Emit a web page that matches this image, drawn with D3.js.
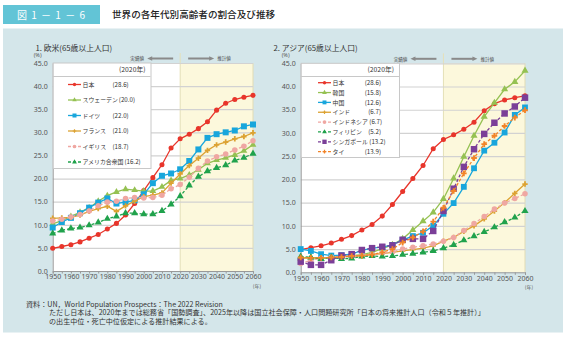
<!DOCTYPE html>
<html>
<head>
<meta charset="utf-8">
<script src="https://cdn.jsdelivr.net/npm/d3@7"></script>
<style>
body { margin: 0; background: #fff; }
svg { display: block; font-family: "Noto Sans CJK JP", "Noto Sans", sans-serif; }
</style>
</head>
<body>
<div id="chart"></div>
<script>
const WIDTH = 567;
const HEIGHT = 337;

// Data: share of population aged 65+ (%)
const years = [1950, 1955, 1960, 1965, 1970, 1975, 1980, 1985, 1990, 1995, 2000, 2005,
  2010, 2015, 2020, 2025, 2030, 2035, 2040, 2045, 2050, 2055, 2060];
const xTickLabels = [1950, 1960, 1970, 1980, 1990, 2000, 2010, 2020, 2030, 2040, 2050, 2060];
const yTickValues = [0, 5, 10, 15, 20, 25, 30, 35, 40, 45];

const japan = [4.9, 5.3, 5.7, 6.3, 7.1, 7.9, 9.1, 10.3, 12.1, 14.6, 17.4, 20.2,
  23.0, 26.6, 28.6, 29.6, 30.8, 32.3, 34.8, 36.3, 37.1, 37.6, 38.0];
const sweden = [10.2, 10.9, 11.8, 12.7, 13.7, 15.1, 16.3, 17.1, 17.7, 17.5, 17.3, 17.3,
  18.2, 19.6, 20.0, 20.8, 21.9, 23.3, 24.0, 24.5, 25.1, 26.0, 27.3];
const germany = [9.4, 10.6, 11.5, 12.5, 13.7, 14.8, 15.7, 14.6, 14.9, 15.3, 16.6, 19.0,
  20.6, 21.1, 22.0, 23.8, 26.3, 28.8, 29.6, 30.0, 30.4, 31.3, 31.7];
const france = [11.4, 11.5, 11.6, 12.1, 12.9, 13.5, 14.0, 12.9, 14.1, 15.1, 16.1, 16.4,
  16.9, 19.0, 21.0, 22.8, 24.4, 26.1, 27.3, 27.9, 28.6, 29.1, 29.9];
const uk = [10.8, 11.2, 11.7, 12.2, 13.0, 14.1, 14.9, 15.1, 15.7, 15.9, 15.8, 15.9,
  16.4, 17.8, 18.7, 20.3, 22.2, 23.8, 24.7, 25.3, 26.2, 27.0, 28.2];
const usa = [8.1, 8.8, 9.2, 9.4, 9.9, 10.5, 11.3, 11.8, 12.5, 12.5, 12.3, 12.3,
  13.0, 14.4, 16.2, 18.5, 20.4, 21.6, 22.3, 22.9, 23.9, 24.5, 25.4];

const korea = [3.0, 3.2, 2.9, 3.3, 3.4, 3.6, 3.8, 4.3, 5.1, 5.9, 7.2, 9.1,
  11.0, 12.9, 15.8, 20.2, 24.9, 29.4, 33.5, 36.5, 39.4, 41.0, 43.4];
const china = [5.0, 4.6, 3.9, 3.6, 3.7, 3.9, 4.7, 5.2, 5.4, 5.9, 7.0, 7.8,
  8.5, 10.0, 12.6, 14.9, 18.4, 22.4, 26.2, 27.9, 30.1, 33.9, 35.5];
const india = [3.1, 3.1, 3.1, 3.2, 3.3, 3.5, 3.6, 3.8, 4.0, 4.3, 4.6, 4.9,
  5.2, 5.7, 6.7, 7.5, 8.8, 10.0, 11.5, 13.2, 15.0, 17.0, 19.0];
const indonesia = [1.9, 2.6, 3.0, 3.3, 3.4, 3.5, 3.6, 3.8, 4.1, 4.4, 5.0, 5.4,
  5.7, 6.1, 6.7, 7.5, 9.0, 10.5, 12.0, 13.6, 14.9, 15.9, 16.9];
const philippines = [3.4, 3.2, 2.9, 3.2, 2.9, 3.0, 3.4, 3.5, 3.4, 3.5, 3.8, 4.0,
  4.3, 4.6, 5.2, 5.9, 6.9, 7.8, 8.7, 9.7, 10.8, 11.8, 13.2];
const singapore = [2.3, 1.6, 1.6, 2.6, 3.6, 3.9, 4.8, 5.2, 5.5, 5.8, 7.0, 7.2,
  7.2, 8.9, 13.2, 18.0, 22.7, 26.5, 29.8, 32.2, 34.2, 35.7, 37.6];
const thailand = [3.2, 3.1, 3.1, 3.2, 3.3, 3.5, 3.6, 3.8, 4.3, 5.0, 6.4, 7.5,
  8.8, 10.9, 13.9, 17.5, 21.3, 24.6, 27.6, 29.4, 31.5, 33.3, 34.9];

const svg = d3.select('#chart').append('svg')
  .attr('width', WIDTH)
  .attr('height', HEIGHT);

// Header
svg.append('rect').attr('x', 0).attr('y', 0).attr('width', WIDTH).attr('height', HEIGHT).attr('fill', '#fff');
svg.append('rect').attr('x', 3).attr('y', 5).attr('width', 97).attr('height', 19).attr('fill', '#62c4d6');
svg.append('text').attr('x', 17).attr('y', 18.5).attr('fill', '#fff')
  .attr('font-size', 10).attr('textLength', 68).text('図1－1－6');
svg.append('text').attr('x', 112).attr('y', 18).attr('fill', '#222')
  .attr('font-size', 9.6).attr('font-weight', 500).text('世界の各年代別高齢者の割合及び推移');
svg.append('rect').attr('x', 3).attr('y', 28.5).attr('width', 560).attr('height', 304).attr('fill', '#d4e6ea');

// Footer
const footer = svg.append('g').attr('font-size', 7.1).attr('fill', '#333');
footer.append('text').attr('x', 26).attr('y', 306.5).text('資料：UN，World Population Prospects：The 2022 Revision');
footer.append('text').attr('x', 49).attr('y', 315)
  .text('ただし日本は、2020年までは総務省「国勢調査」、2025年以降は国立社会保障・人口問題研究所「日本の将来推計人口（令和５年推計）」');
footer.append('text').attr('x', 49).attr('y', 323.5).text('の出生中位・死亡中位仮定による推計結果による。');

function drawPanel(cfg) {
  const x = d3.scaleLinear().domain([1950, 2060]).range([cfg.left, cfg.right]);
  const y = d3.scaleLinear().domain([0, 45]).range([cfg.bottom, cfg.top]);
  const g = svg.append('g');
  const plotW = x(2060) - x(1950);
  const plotH = y(0) - y(45);

  // backgrounds
  g.append('rect').attr('x', x(1950)).attr('y', y(45)).attr('width', x(2020) - x(1950))
    .attr('height', plotH).attr('fill', '#fff');
  g.append('rect').attr('x', x(2020)).attr('y', y(45)).attr('width', x(2060) - x(2020))
    .attr('height', plotH).attr('fill', '#fcf8dc');
  g.append('line').attr('x1', x(2060)).attr('x2', x(2060)).attr('y1', y(45)).attr('y2', y(0))
    .attr('stroke', '#e2dcb4').attr('stroke-width', 1);
  g.append('line').attr('x1', x(2020)).attr('x2', x(2020)).attr('y1', y(45) - 10).attr('y2', y(0))
    .attr('stroke', '#e6e0b8').attr('stroke-width', 1);

  // grid
  const grid = g.append('g')
    .attr('transform', 'translate(' + x(1950) + ',0)')
    .call(d3.axisLeft(y).tickValues(yTickValues.slice(1)).tickSize(-plotW).tickFormat(''));
  grid.select('.domain').remove();
  grid.selectAll('line').attr('stroke', '#d2d2d2').attr('stroke-width', 1.2);

  // axes
  const yAxis = g.append('g')
    .attr('transform', 'translate(' + x(1950) + ',0)')
    .call(d3.axisLeft(y).tickValues(yTickValues).tickSize(0).tickPadding(5).tickFormat(d3.format('.1f')));
  yAxis.select('.domain').attr('stroke', '#999');
  yAxis.selectAll('text').attr('font-family', '"Noto Sans", sans-serif').attr('font-size', 7).attr('fill', '#555');

  const xAxis = g.append('g')
    .attr('transform', 'translate(0,' + y(0) + ')')
    .call(d3.axisBottom(x).tickValues(years).tickSize(2.5).tickPadding(1)
      .tickFormat(d => xTickLabels.includes(d) ? d : ''));
  xAxis.select('.domain').attr('stroke', '#999');
  xAxis.selectAll('line').attr('stroke', '#999');
  xAxis.selectAll('text').attr('font-family', '"Noto Sans", sans-serif').attr('font-size', 7).attr('fill', '#555');

  g.append('text').attr('x', x(2060) + 4).attr('y', y(0) + 16.5).attr('text-anchor', 'middle')
    .attr('font-size', 5).attr('fill', '#555').text('(年)');
  g.append('text').attr('x', x(1950) - 19).attr('y', y(45) - 6).attr('font-size', 5.5)
    .attr('font-family', '"Noto Sans", sans-serif').attr('fill', '#555').text('(%)');
  g.append('text').attr('x', cfg.titleX).attr('y', 50.5).attr('font-size', 7.8).attr('fill', '#333')
    .text(cfg.title);

  // actual / projected arrows
  const arrowY = y(45) - 4.5;
  const arr = g.append('g').attr('stroke', '#8a8a8a').attr('fill', '#8a8a8a');
  const x20 = x(2020);
  arr.append('line').attr('x1', x20 - 7).attr('x2', x20 - 30).attr('y1', arrowY).attr('y2', arrowY).attr('stroke-width', 2);
  arr.append('path').attr('d', d3.line()([[x20 - 33, arrowY], [x20 - 28, arrowY - 2.2], [x20 - 28, arrowY + 2.2]])).attr('stroke', 'none');
  arr.append('line').attr('x1', x20 + 8).attr('x2', x20 + 31).attr('y1', arrowY).attr('y2', arrowY).attr('stroke-width', 2);
  arr.append('path').attr('d', d3.line()([[x20 + 34, arrowY], [x20 + 29, arrowY - 2.2], [x20 + 29, arrowY + 2.2]])).attr('stroke', 'none');
  g.append('text').attr('x', x20 - 36).attr('y', arrowY + 1.8).attr('text-anchor', 'end')
    .attr('font-size', 4.6).attr('fill', '#444').text('実績値');
  g.append('text').attr('x', x20 + 37).attr('y', arrowY + 1.8)
    .attr('font-size', 4.6).attr('fill', '#444').text('推計値');

  // series
  const line = d3.line().x((d, i) => x(years[i])).y(d => y(d));
  cfg.series.forEach(s => {
    const sg = g.append('g');
    sg.append('path').attr('d', line(s.values)).attr('fill', 'none')
      .attr('stroke', s.color).attr('stroke-width', 1.3)
      .attr('stroke-dasharray', s.dashed ? '3,2' : null);
    sg.selectAll('path.m').data(s.values).join('path').attr('class', 'm')
      .attr('transform', (d, i) => 'translate(' + x(years[i]) + ',' + y(d) + ')')
      .attr('d', d3.symbol().type(s.symbol).size(s.size))
      .attr('fill', s.color);
  });

  // legend
  const lg = g.append('g');
  const lx0 = x(1950);
  lg.append('rect').attr('x', lx0 + 0.5).attr('y', y(45)).attr('width', cfg.legendRight - lx0)
    .attr('height', cfg.legendBottom - y(45)).attr('fill', '#fff').attr('stroke', '#c8c8c8');
  lg.append('line').attr('x1', lx0).attr('x2', cfg.legendRight).attr('y1', cfg.legendHeadLine).attr('y2', cfg.legendHeadLine)
    .attr('stroke', '#c8c8c8');
  lg.append('text').attr('x', cfg.legendRight - 5).attr('y', y(45) + 8.5).attr('text-anchor', 'end')
    .attr('font-size', 6.8).attr('fill', '#333').text('(2020年)');
  const idx2020 = years.indexOf(2020);
  cfg.series.forEach((s, i) => {
    const ly = cfg.legendY0 + i * cfg.legendStep;
    lg.append('line').attr('x1', cfg.legendSampleX).attr('x2', cfg.legendSampleX + 13)
      .attr('y1', ly).attr('y2', ly).attr('stroke', s.color).attr('stroke-width', 1.3)
      .attr('stroke-dasharray', s.dashed ? '3,2' : null);
    lg.append('path').attr('transform', 'translate(' + (cfg.legendSampleX + 6.5) + ',' + ly + ')')
      .attr('d', d3.symbol().type(s.symbol).size(s.size * 0.45)).attr('fill', s.color);
    const nameText = lg.append('text').attr('x', cfg.legendSampleX + 14.5).attr('y', ly + 2.1)
      .attr('font-size', 5.9).attr('fill', '#333').text(s.name);
    const endX = cfg.legendSampleX + 14.5 + nameText.node().getComputedTextLength();
    const valText = lg.append('text').attr('y', ly + 2.1)
      .attr('font-size', 6.2).attr('fill', '#333').text('(' + s.values[idx2020].toFixed(1) + ')');
    const vw = valText.node().getComputedTextLength();
    if (cfg.valueAnchor === 'end') {
      valText.attr('x', Math.max(cfg.valueX - vw, endX + 1.5));
    } else {
      valText.attr('x', Math.max(cfg.valueX, endX + 1));
    }
  });
}

const circle = d3.symbolCircle, tri = d3.symbolTriangle, sq = d3.symbolSquare,
  cross = d3.symbolCross;

drawPanel({
  left: 52.7, right: 253, top: 63, bottom: 271,
  title: '1. 欧米(65歳以上人口)', titleX: 35.5,
  legendRight: 150.5, legendBottom: 168.5, legendHeadLine: 76.5,
  legendY0: 84.5, legendStep: 15.5, legendSampleX: 68, valueX: 112.5, valueAnchor: 'start',
  series: [
    { name: '日本', values: japan, color: '#e8352b', symbol: circle, size: 20 },
    { name: 'スウェーデン', values: sweden, color: '#95c152', symbol: tri, size: 20 },
    { name: 'ドイツ', values: germany, color: '#18a6dc', symbol: sq, size: 36 },
    { name: 'フランス', values: france, color: '#dca232', symbol: cross, size: 16 },
    { name: 'イギリス', values: uk, color: '#efa7a2', symbol: circle, size: 24, dashed: true },
    { name: 'アメリカ合衆国', values: usa, color: '#20a24c', symbol: tri, size: 22, dashed: true }
  ]
});

drawPanel({
  left: 300.7, right: 525, top: 63.3, bottom: 272.3,
  title: '2. アジア(65歳以上人口)', titleX: 273.5,
  legendRight: 399, legendBottom: 157.5, legendHeadLine: 76.5,
  legendY0: 82.7, legendStep: 9.85, legendSampleX: 318, valueX: 381, valueAnchor: 'end',
  series: [
    { name: '日本', values: japan, color: '#e8352b', symbol: circle, size: 20 },
    { name: '韓国', values: korea, color: '#95c152', symbol: tri, size: 22 },
    { name: '中国', values: china, color: '#18a6dc', symbol: sq, size: 34 },
    { name: 'インド', values: india, color: '#dca232', symbol: cross, size: 16 },
    { name: 'インドネシア', values: indonesia, color: '#efa7a2', symbol: circle, size: 24, dashed: true },
    { name: 'フィリピン', values: philippines, color: '#20a24c', symbol: tri, size: 22, dashed: true },
    { name: 'シンガポール', values: singapore, color: '#7b3f98', symbol: sq, size: 42, dashed: true },
    { name: 'タイ', values: thailand, color: '#f28428', symbol: cross, size: 18, dashed: true }
  ]
});
</script>
</body>
</html>
